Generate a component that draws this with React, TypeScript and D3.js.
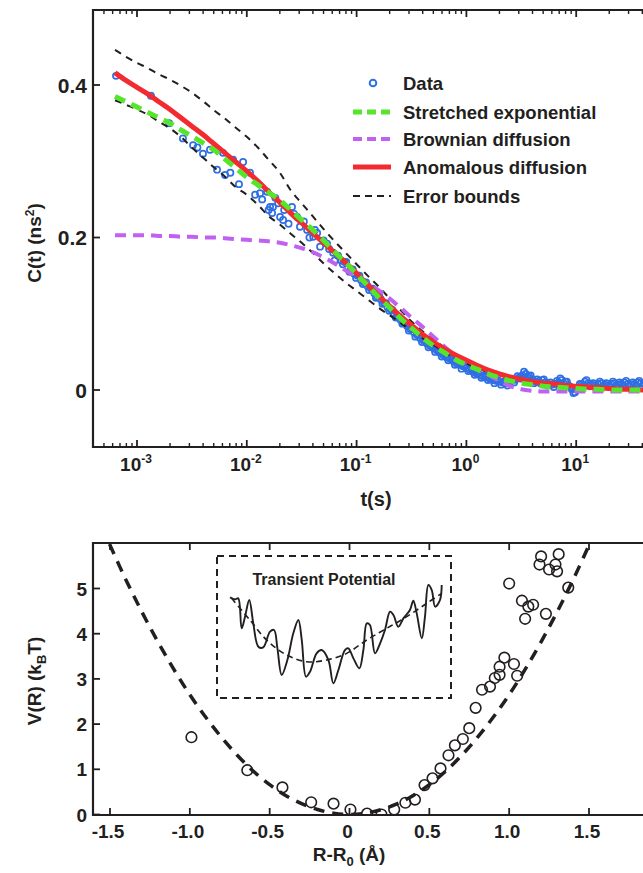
import React from "react";
import * as d3 from "d3";

const W = 643;
const H = 873;

// ---------- Top panel: correlation function ----------
const dataT = [
  6.44e-4, 1.34e-3, 1.96e-3, 2.62e-3, 3.24e-3, 3.99e-3, 4.62e-3, 5.36e-3, 6.08e-3, 6.34e-3,
  7.5e-3, 8.49e-3, 9.25e-3, 0.0107, 0.0119, 0.0132, 0.0153, 0.0163, 0.017, 0.0173,
  0.0193, 0.0201, 0.0214, 0.0258, 0.0287, 0.0305, 0.0354, 0.0402, 0.0437, 0.0465,
  0.0501, 0.0538, 0.0611, 0.0678,
  0.0138, 0.0158, 0.0182, 0.0219, 0.024, 0.0269, 0.0331, 0.0372, 0.0417, 0.0562,
  0.0631, 0.00708, 0.00355,
  0.0724, 0.0776, 0.0832, 0.0891, 0.0955, 0.102, 0.110, 0.117, 0.126, 0.135,
  0.145, 0.155, 0.166, 0.178, 0.191, 0.204, 0.219, 0.234, 0.251, 0.269,
  0.288, 0.309, 0.331, 0.355, 0.380, 0.407, 0.437, 0.468, 0.501, 0.537,
  0.575, 0.617, 0.661, 0.708, 0.759, 0.813, 0.871, 0.933, 1.0, 1.07,
  1.15, 1.23, 1.32, 1.41, 1.51, 1.62, 1.74, 1.86, 2.0, 2.14,
  2.29, 2.45, 2.63, 2.82, 3.02, 3.24, 3.47, 3.72, 3.98, 4.27,
  4.57, 4.9, 5.25, 5.62, 6.03, 6.46, 6.92, 7.41, 7.94, 8.51,
  9.12, 9.77, 10.5, 11.2, 12.0, 12.9, 13.8, 14.8, 15.8, 17.0,
  18.2, 19.5, 20.9, 22.4, 24.0, 25.7, 27.5, 29.5, 31.6, 33.9,
  36.3, 38.9, 41.7, 44.7,
  0.075, 0.0804, 0.0861, 0.0923, 0.0989, 0.106, 0.114, 0.122, 0.13, 0.14,
  0.15, 0.161, 0.172, 0.185, 0.198, 0.212, 0.227, 0.243, 0.261, 0.279,
  0.299, 0.32, 0.343, 0.368, 0.394, 0.422, 0.452, 0.485, 0.519, 0.556,
  0.596, 0.639, 0.684, 0.733, 0.786, 0.842, 0.902, 0.966, 1.04, 1.11,
  1.19, 1.27, 1.37, 1.46, 1.57, 1.68, 1.8, 1.93, 2.07, 2.21,
  2.37, 2.54, 2.72, 2.92, 3.13, 3.35, 3.59, 3.85, 4.12, 4.42,
  4.73, 5.07, 5.43, 5.82, 6.24, 6.68, 7.16, 7.67, 8.22, 8.81,
  9.44, 10.1, 10.8, 11.6, 12.4, 13.3, 14.3, 15.3, 16.4, 17.6,
  18.8, 20.2, 21.6, 23.1, 24.8, 26.6, 28.5, 30.5, 32.7, 35.0,
  37.5, 40.2, 43.1,
];
const dataC = [
  0.412, 0.386, 0.350, 0.330, 0.321, 0.310, 0.315, 0.289, 0.311, 0.282,
  0.302, 0.270, 0.299, 0.285, 0.256, 0.258, 0.260, 0.240, 0.232, 0.240,
  0.245, 0.227, 0.223, 0.240, 0.227, 0.214, 0.210, 0.201, 0.206, 0.188,
  0.196, 0.192, 0.180, 0.176,
  0.250, 0.236, 0.252, 0.236, 0.218, 0.231, 0.221, 0.200, 0.210, 0.185,
  0.170, 0.285, 0.318,
  0.170, 0.168, 0.160, 0.158, 0.152, 0.150, 0.144, 0.141, 0.136, 0.133,
  0.127, 0.122, 0.119, 0.114, 0.109, 0.106, 0.100, 0.096, 0.092, 0.088,
  0.084, 0.080, 0.076, 0.072, 0.068, 0.065, 0.061, 0.058, 0.055, 0.052,
  0.049, 0.046, 0.043, 0.041, 0.038, 0.035, 0.033, 0.031, 0.029, 0.027,
  0.024, 0.022, 0.020, 0.018, 0.017, 0.015, 0.013, 0.012, 0.011, 0.010,
  0.009, 0.010, 0.012, 0.014, 0.016, 0.019, 0.021, 0.018, 0.014, 0.011,
  0.012, 0.013, 0.010, 0.008, 0.007, 0.008, 0.010, 0.013, 0.011, 0.006,
  0.001, -0.003, 0.002, 0.007, 0.011, 0.009, 0.007, 0.006, 0.008, 0.009,
  0.007, 0.006, 0.008, 0.009, 0.007, 0.008, 0.010, 0.008, 0.007, 0.008,
  0.010, 0.009, 0.008, 0.007,
  0.165, 0.168, 0.155, 0.158, 0.147, 0.150, 0.139, 0.141, 0.131, 0.133,
  0.121, 0.123, 0.113, 0.114, 0.104, 0.105, 0.095, 0.096, 0.087, 0.088,
  0.078, 0.080, 0.070, 0.072, 0.063, 0.065, 0.056, 0.058, 0.050, 0.052,
  0.044, 0.046, 0.039, 0.041, 0.033, 0.036, 0.028, 0.032, 0.025, 0.028,
  0.020, 0.023, 0.016, 0.019, 0.013, 0.016, 0.009, 0.013, 0.007, 0.011,
  0.006, 0.013, 0.010, 0.018, 0.015, 0.024, 0.017, 0.019, 0.009, 0.014,
  0.009, 0.014, 0.006, 0.010, 0.004, 0.012, 0.015, 0.009, 0.011, 0.004,
  -0.004, 0.001, 0.008, 0.006, 0.013, 0.005, 0.009, 0.004, 0.011, 0.005,
  0.009, 0.004, 0.011, 0.005, 0.010, 0.006, 0.012, 0.005, 0.010, 0.006,
  0.012, 0.005, 0.010,
];

const curveT = [
  6.31e-4, 7.94e-4, 1e-3, 1.26e-3, 1.58e-3, 2.0e-3, 2.51e-3, 3.16e-3, 3.98e-3, 5.01e-3,
  6.31e-3, 7.94e-3, 0.01, 0.0126, 0.0158, 0.02, 0.0251, 0.0316, 0.0398, 0.0501,
  0.0631, 0.0794, 0.1, 0.126, 0.158, 0.2, 0.251, 0.316, 0.398, 0.501,
  0.631, 0.794, 1, 1.26, 1.58, 2.0, 2.51, 3.16, 3.98, 5.01,
  6.31, 7.94, 10, 12.6, 15.8, 20, 25.1, 31.6, 39.8, 50.1,
];
const anomalousC = [
  0.416, 0.406, 0.397, 0.388, 0.378, 0.368, 0.357, 0.346, 0.335, 0.323,
  0.311, 0.299, 0.287, 0.274, 0.260, 0.246, 0.232, 0.219, 0.206, 0.193,
  0.180, 0.167, 0.153, 0.138, 0.124, 0.110, 0.097, 0.085, 0.073, 0.063,
  0.054, 0.046, 0.039, 0.032, 0.026, 0.021, 0.017, 0.014, 0.011, 0.009,
  0.008, 0.006, 0.005, 0.004, 0.003, 0.002, 0.001, 0.001, 0.0, 0.0,
];
const stretchedC = [
  0.385, 0.378, 0.371, 0.364, 0.357, 0.350, 0.341, 0.333, 0.324, 0.315,
  0.303, 0.291, 0.279, 0.269, 0.259, 0.249, 0.236, 0.223, 0.210, 0.196,
  0.181, 0.167, 0.152, 0.137, 0.122, 0.108, 0.094, 0.081, 0.069, 0.058,
  0.049, 0.040, 0.033, 0.027, 0.021, 0.016, 0.012, 0.009, 0.007, 0.005,
  0.004, 0.003, 0.002, 0.001, 0.001, 0.0, 0.0, 0.0, 0.0, 0.0,
];
const brownianC = [
  0.203, 0.203, 0.203, 0.203, 0.202, 0.202, 0.201, 0.201, 0.200, 0.200,
  0.199, 0.198, 0.197, 0.196, 0.195, 0.193, 0.190, 0.186, 0.181, 0.174,
  0.166, 0.157, 0.148, 0.140, 0.131, 0.120, 0.108, 0.095, 0.083, 0.070,
  0.057, 0.045, 0.035, 0.027, 0.020, 0.012, 0.005, 0.001, -0.001, -0.002,
  -0.002, -0.002, -0.002, -0.002, -0.002, -0.002, -0.002, -0.002, -0.002, -0.002,
];
const upperC = [
  0.446, 0.437, 0.429, 0.422, 0.414, 0.407, 0.399, 0.390, 0.379, 0.367,
  0.356, 0.344, 0.332, 0.318, 0.302, 0.285, 0.262, 0.245, 0.228, 0.211,
  0.195, 0.180, 0.165, 0.150, 0.136, 0.120, 0.105, 0.090, 0.077, 0.066,
  0.056, 0.047, 0.040, 0.033, 0.027, 0.022, 0.018,
];
const lowerC = [
  0.380, 0.374, 0.368, 0.361, 0.352, 0.343, 0.332, 0.318, 0.305, 0.292,
  0.280, 0.266, 0.256, 0.243, 0.228, 0.217, 0.205, 0.193, 0.180, 0.166,
  0.153, 0.141, 0.130, 0.119, 0.108, 0.098, 0.088, 0.078, 0.068, 0.059,
  0.050, 0.042, 0.035, 0.029, 0.023, 0.019,
];
const topYTicks = [0, 0.2, 0.4];
const topYTickLabels = ["0", "0.2", "0.4"];
const topXDecades = [-3, -2, -1, 0, 1, 2];

const legendItems = [
  { label: "Data", kind: "circle" },
  { label: "Stretched exponential", kind: "green" },
  { label: "Brownian diffusion", kind: "purple" },
  { label: "Anomalous diffusion", kind: "red" },
  { label: "Error bounds", kind: "black" },
];

// ---------- Bottom panel: potential ----------
const potX = [
  -0.99, -0.64, -0.42, -0.24, -0.10, 0.006, 0.11, 0.20, 0.28, 0.35,
  0.41, 0.47, 0.52, 0.57, 0.62, 0.66, 0.71, 0.75, 0.79, 0.83,
  0.88, 0.91, 0.94, 0.94, 0.97, 1.03, 1.05, 1.00, 1.08, 1.12,
  1.15, 1.10, 1.23, 1.20, 1.19, 1.25, 1.29, 1.30, 1.31, 1.37,
];
const potV = [
  1.71, 0.98, 0.60, 0.27, 0.24, 0.11, 0.02, 0.0, 0.11, 0.26,
  0.33, 0.65, 0.80, 1.02, 1.31, 1.53, 1.67, 1.91, 2.36, 2.76,
  2.83, 3.02, 3.09, 3.27, 3.47, 3.33, 3.07, 5.11, 4.73, 4.60,
  4.64, 4.33, 4.44, 5.71, 5.53, 5.42, 5.53, 5.38, 5.76, 5.02,
];
const fitX = [
  -1.55, -1.5, -1.4, -1.3, -1.2, -1.1, -1.0, -0.9, -0.8, -0.7, -0.6, -0.5, -0.4, -0.3, -0.2, -0.1,
  0, 0.1, 0.2, 0.3, 0.4, 0.5, 0.6, 0.7, 0.8, 0.9, 1.0, 1.1, 1.2, 1.3, 1.4, 1.5, 1.55,
];
const fitV = [
  6.37, 5.96, 5.19, 4.48, 3.82, 3.21, 2.65, 2.15, 1.70, 1.30, 0.95, 0.66, 0.42, 0.24, 0.11, 0.03,
  0, 0.03, 0.11, 0.24, 0.42, 0.66, 0.95, 1.30, 1.70, 2.15, 2.65, 3.21, 3.82, 4.48, 5.19, 5.96, 6.37,
];
const bottomXTicks = [-1.5, -1.0, -0.5, 0, 0.5, 1.0, 1.5, 2.0];
const bottomXTickLabels = ["-1.5", "-1.0", "-0.5", "0", "0.5", "1.0", "1.5", "2.0"];
const bottomYTicks = [0, 1, 2, 3, 4, 5];

// Inset: transient potential
const insetU = [
  0, 2.4, 3.9, 5.5, 7.1, 9.1, 11.0, 13.4, 15.7, 18.9, 20.8, 22.4, 24.4, 27.1, 29.9, 32.3,
  33.9, 35.9, 37.8, 40.9, 43.3, 46.5, 48.8, 51.2, 54.3, 55.9, 58.3, 61.1, 63.0, 64.6,
  66.1, 68.5, 70.9, 73.2, 75.6, 77.2, 79.5, 81.9, 85.0, 86.6, 88.2, 90.6, 92.1, 93.7,
  95.3, 96.9, 99.2, 100,
];
const insetV = [
  3.08, 3.02, 3.05, 2.15, 2.5, 3.0, 2.3, 1.6, 1.58, 2.05, 2.1, 1.55, 0.75, 1.2, 2.0, 2.4,
  1.8, 0.7, 0.85, 1.4, 1.5, 1.2, 0.5, 0.9, 1.5, 1.55, 1.25, 0.95, 1.5, 2.3,
  2.25, 1.4, 1.7, 2.1, 2.65, 2.55, 2.2, 2.45, 2.7, 2.98, 2.6, 1.85, 2.5, 3.45,
  3.3, 2.8, 3.0, 3.45,
];
const insetFitU = [0.8, 9.4, 17.3, 26.8, 36.2, 45.7, 55.1, 64.6, 74.0, 83.5, 92.9, 100];
const insetFitV = [3.05, 2.4, 1.8, 1.35, 1.15, 1.2, 1.4, 1.8, 2.15, 2.5, 2.9, 3.2];

const FONT = "'Liberation Sans', Arial, Helvetica, sans-serif";
const INK = "#231f20";
const BLUE = "#2f6fe4";
const GREEN = "#55e52a";
const PURPLE = "#c061f2";
const RED = "#f32a30";

export default function App() {
  // scales – top
  const xT = d3.scaleLog().domain([1e-3, 1e2]).range([137, 686]);
  const yT = d3.scaleLinear().domain([0, 0.4]).range([390, 85]);
  const tLeft = 93, tTop = 10, tBottom = 447, tRight = 700;

  // scales – bottom
  const xB = d3.scaleLinear().domain([-1.5, 1.5]).range([110, 589]);
  const yB = d3.scaleLinear().domain([0, 5]).range([814.5, 588.5]);
  const bLeft = 93, bTop = 543, bBottom = 815, bRight = 700;

  // inset
  const xI = d3.scaleLinear().domain([0, 100]).range([230, 441.7]);
  const yI = d3.scaleLinear().domain([0, 4]).range([700, 566.7]);

  const lineT = (ts: number[], cs: number[]) =>
    d3
      .line<number>()
      .x((_, i) => xT(ts[i]))
      .y((c) => yT(c))
      .curve(d3.curveMonotoneX)(cs) || "";

  const fitPath =
    d3
      .line<number>()
      .x((_, i) => xB(fitX[i]))
      .y((v) => yB(v))
      .curve(d3.curveCatmullRom)(fitV) || "";
  const insetPath =
    d3
      .line<number>()
      .x((_, i) => xI(insetU[i]))
      .y((v) => yI(v))
      .curve(d3.curveCatmullRom.alpha(0.5))(insetV) || "";
  const insetFitPath =
    d3
      .line<number>()
      .x((_, i) => xI(insetFitU[i]))
      .y((v) => yI(v))
      .curve(d3.curveCatmullRom)(insetFitV) || "";

  // log ticks
  const minorTicks: number[] = [];
  for (let k = -4; k <= 1; k++) {
    for (let m = 2; m <= 9; m++) {
      const v = m * Math.pow(10, k);
      const px = xT(v);
      if (px > tLeft + 2 && px < W) minorTicks.push(v);
    }
  }
  const n = Math.min(dataT.length, dataC.length);
  const dataIdx = d3.range(n);

  return (
    <svg
      width={W}
      height={H}
      viewBox={`0 0 ${W} ${H}`}
      style={{ position: "absolute", left: 0, top: 0, background: "#fff" }}
      fontFamily={FONT}
    >
      <defs>
        <clipPath id="clipTop">
          <rect x={tLeft + 1} y={tTop + 1} width={tRight - tLeft} height={tBottom - tTop - 2} />
        </clipPath>
        <clipPath id="clipBot">
          <rect x={bLeft + 1} y={bTop + 1} width={bRight - bLeft} height={bBottom - bTop - 1} />
        </clipPath>
      </defs>
      <rect x={0} y={0} width={W} height={H} fill="#fff" />

      {/* ================= TOP PANEL ================= */}
      <g clipPath="url(#clipTop)">
        {dataIdx.map((i) => (
          <circle
            key={"d" + i}
            cx={xT(dataT[i])}
            cy={yT(dataC[i])}
            r={3.1}
            fill="none"
            stroke={BLUE}
            strokeWidth={1.7}
          />
        ))}
        <path
          d={lineT(curveT.slice(0, upperC.length), upperC)}
          fill="none"
          stroke={INK}
          strokeWidth={2}
          strokeDasharray="7,6"
        />
        <path
          d={lineT(curveT.slice(0, lowerC.length), lowerC)}
          fill="none"
          stroke={INK}
          strokeWidth={2}
          strokeDasharray="7,6"
        />
        <path
          d={lineT(curveT, brownianC)}
          fill="none"
          stroke={PURPLE}
          strokeWidth={4}
          strokeDasharray="11,7"
        />
        <path d={lineT(curveT, anomalousC)} fill="none" stroke={RED} strokeWidth={5} />
        <path
          d={lineT(curveT, stretchedC)}
          fill="none"
          stroke={GREEN}
          strokeWidth={5}
          strokeDasharray="11,7"
        />
      </g>

      {/* frame */}
      <line x1={tLeft} y1={tTop} x2={W} y2={tTop} stroke={INK} strokeWidth={2.2} />
      <line x1={tLeft} y1={tBottom} x2={W} y2={tBottom} stroke={INK} strokeWidth={2.2} />
      <line x1={tLeft} y1={tTop - 1} x2={tLeft} y2={tBottom + 1} stroke={INK} strokeWidth={2.2} />

      {/* x ticks */}
      {topXDecades.map((k) => {
        const px = xT(Math.pow(10, k));
        if (px > W) return null;
        return (
          <g key={"xt" + k}>
            <line x1={px} y1={tBottom} x2={px} y2={tBottom - 7} stroke={INK} strokeWidth={1.8} />
            <line x1={px} y1={tTop} x2={px} y2={tTop + 7} stroke={INK} strokeWidth={1.8} />
            <text x={px - 1} y={471} textAnchor="middle" fontWeight="bold" fontSize={19} fill={INK}>
              <tspan>10</tspan>
              <tspan dy={-8} fontSize={12}>
                {String(k)}
              </tspan>
            </text>
          </g>
        );
      })}
      {minorTicks.map((v, i) => {
        const px = xT(v);
        return (
          <g key={"mt" + i}>
            <line x1={px} y1={tBottom} x2={px} y2={tBottom - 4} stroke={INK} strokeWidth={1.4} />
            <line x1={px} y1={tTop} x2={px} y2={tTop + 4} stroke={INK} strokeWidth={1.4} />
          </g>
        );
      })}
      {/* y ticks */}
      {topYTicks.map((v, i) => (
        <g key={"yt" + i}>
          <line x1={tLeft} y1={yT(v)} x2={tLeft + 7} y2={yT(v)} stroke={INK} strokeWidth={1.8} />
          <text x={87} y={yT(v) + 7.5} textAnchor="end" fontWeight="bold" fontSize={21} fill={INK}>
            {topYTickLabels[i]}
          </text>
        </g>
      ))}
      <text x={376} y={506} textAnchor="middle" fontWeight="bold" fontSize={20} fill={INK}>
        t(s)
      </text>
      <text
        transform="translate(41,243) rotate(-90)"
        textAnchor="middle"
        fontWeight="bold"
        fontSize={19}
        fill={INK}
      >
        <tspan>C(t) (ns</tspan>
        <tspan dy={-7} fontSize={12}>
          2
        </tspan>
        <tspan dy={7}>)</tspan>
      </text>

      {/* legend */}
      {legendItems.map((it, i) => {
        const rowsY = [83, 112, 139, 167, 196];
        const y = rowsY[i];
        let sample: React.ReactNode = null;
        if (it.kind === "circle")
          sample = <circle cx={373} cy={y} r={3.3} fill="none" stroke={BLUE} strokeWidth={2} />;
        else if (it.kind === "green")
          sample = (
            <line x1={353} y1={y} x2={391} y2={y} stroke={GREEN} strokeWidth={5} strokeDasharray="9,5" />
          );
        else if (it.kind === "purple")
          sample = (
            <line x1={353} y1={y} x2={391} y2={y} stroke={PURPLE} strokeWidth={4} strokeDasharray="9,5" />
          );
        else if (it.kind === "red")
          sample = <line x1={353} y1={y} x2={391} y2={y} stroke={RED} strokeWidth={5} />;
        else
          sample = (
            <line x1={353} y1={y} x2={391} y2={y} stroke={INK} strokeWidth={2} strokeDasharray="7,5" />
          );
        return (
          <g key={"lg" + i}>
            {sample}
            <text x={403} y={y + 7} fontWeight="bold" fontSize={18.5} fill={INK}>
              {it.label}
            </text>
          </g>
        );
      })}

      {/* ================= BOTTOM PANEL ================= */}
      <g clipPath="url(#clipBot)">
        <path d={fitPath} fill="none" stroke={INK} strokeWidth={3.5} strokeDasharray="11,8" />
        {potX.map((x, i) => (
          <circle
            key={"p" + i}
            cx={xB(x)}
            cy={yB(potV[i])}
            r={5.3}
            fill="none"
            stroke={INK}
            strokeWidth={1.6}
          />
        ))}
      </g>
      {/* inset */}
      <rect
        x={217}
        y={556}
        width={234}
        height={142}
        fill="none"
        stroke={INK}
        strokeWidth={2}
        strokeDasharray="7,5"
      />
      <text x={324} y={585} textAnchor="middle" fontWeight="bold" fontSize={16} fill={INK}>
        Transient Potential
      </text>
      <path d={insetFitPath} fill="none" stroke={INK} strokeWidth={1.6} strokeDasharray="6,4" />
      <path d={insetPath} fill="none" stroke={INK} strokeWidth={1.9} />

      {/* frame */}
      <line x1={bLeft} y1={bTop} x2={W} y2={bTop} stroke={INK} strokeWidth={2.2} />
      <line x1={bLeft} y1={bBottom} x2={W} y2={bBottom} stroke={INK} strokeWidth={2.2} />
      <line x1={bLeft} y1={bTop - 1} x2={bLeft} y2={bBottom + 1} stroke={INK} strokeWidth={2.2} />
      {bottomXTicks.map((v, i) => {
        const px = xB(v);
        if (px > W) return null;
        return (
          <g key={"bx" + i}>
            <line x1={px} y1={bBottom} x2={px} y2={bBottom - 7} stroke={INK} strokeWidth={1.8} />
            <line x1={px} y1={bTop} x2={px} y2={bTop + 7} stroke={INK} strokeWidth={1.8} />
            <text x={px - 2} y={838} textAnchor="middle" fontWeight="bold" fontSize={19} fill={INK}>
              {bottomXTickLabels[i]}
            </text>
          </g>
        );
      })}
      {bottomYTicks.map((v) => (
        <g key={"by" + v}>
          <line x1={bLeft} y1={yB(v)} x2={bLeft + 7} y2={yB(v)} stroke={INK} strokeWidth={1.8} />
          <text x={87} y={yB(v) + 7} textAnchor="end" fontWeight="bold" fontSize={19} fill={INK}>
            {String(v)}
          </text>
        </g>
      ))}
      <text x={349} y={861} textAnchor="middle" fontWeight="bold" fontSize={19} fill={INK}>
        <tspan>R-R</tspan>
        <tspan dy={5} fontSize={13}>
          0
        </tspan>
        <tspan dy={-5}> (Å)</tspan>
      </text>
      <text
        transform="translate(41,681) rotate(-90)"
        textAnchor="middle"
        fontWeight="bold"
        fontSize={19}
        fill={INK}
      >
        <tspan>V(R) (k</tspan>
        <tspan dy={5} fontSize={13}>
          B
        </tspan>
        <tspan dy={-5}>T)</tspan>
      </text>
    </svg>
  );
}
